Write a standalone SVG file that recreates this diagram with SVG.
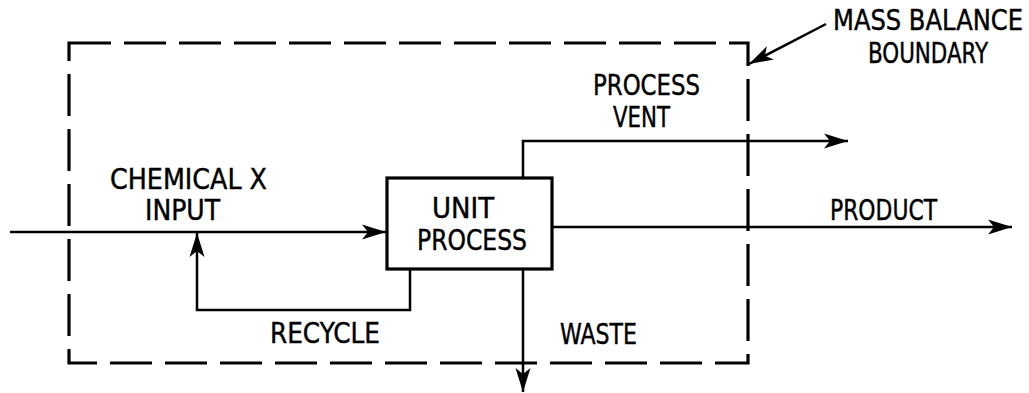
<svg xmlns="http://www.w3.org/2000/svg" width="1029" height="393" viewBox="0 0 1029 393">
<style>
text{font-family:"DejaVu Sans Condensed","DejaVu Sans","Liberation Sans",sans-serif;font-size:27.5px;fill:#000;stroke:#000;stroke-width:0.4}
.ln{fill:none;stroke:#000;stroke-width:2.5}
.bd{fill:none;stroke:#000;stroke-width:3.2;stroke-dasharray:42 13}
</style>
<defs>
<marker id="ah" markerUnits="userSpaceOnUse" markerWidth="26" markerHeight="18" viewBox="0 0 26 18" refX="24" refY="9" orient="auto">
<path d="M0,1.5 L24,9 L0,16.5 L6,9 Z" fill="#000"/>
</marker>
</defs>
<g id="boundary">
<rect class="bd" x="69" y="43" width="679" height="320"/>
</g>
<g id="unit-process">
<rect x="387" y="178" width="165" height="91" fill="#fff" stroke="#000" stroke-width="3.2"/>
<text x="432" y="218" textLength="62" lengthAdjust="spacingAndGlyphs">UNIT</text>
<text x="417" y="250" textLength="110" lengthAdjust="spacingAndGlyphs">PROCESS</text>
</g>
<g id="connectors">
<path class="ln" d="M10,232 H386" marker-end="url(#ah)"/>
<path class="ln" d="M410,269 V310 H197 V233" marker-end="url(#ah)"/>
<path class="ln" d="M523,178 V141 H848" marker-end="url(#ah)"/>
<path class="ln" d="M552,227 H1012" marker-end="url(#ah)"/>
<path class="ln" d="M523,269 V392" marker-end="url(#ah)"/>
<path class="ln" d="M826,24 L749,64" marker-end="url(#ah)"/>
</g>
<g id="labels">
<text x="110" y="189" textLength="157" lengthAdjust="spacingAndGlyphs">CHEMICAL X</text>
<text x="145" y="220" textLength="75" lengthAdjust="spacingAndGlyphs">INPUT</text>
<text x="593" y="95" textLength="107" lengthAdjust="spacingAndGlyphs">PROCESS</text>
<text x="613" y="127" textLength="57" lengthAdjust="spacingAndGlyphs">VENT</text>
<text x="830" y="220" textLength="107" lengthAdjust="spacingAndGlyphs">PRODUCT</text>
<text x="270" y="343" textLength="110" lengthAdjust="spacingAndGlyphs">RECYCLE</text>
<text x="560" y="344" textLength="77" lengthAdjust="spacingAndGlyphs">WASTE</text>
<text x="833" y="30" textLength="190" lengthAdjust="spacingAndGlyphs">MASS BALANCE</text>
<text x="868" y="63" textLength="120" lengthAdjust="spacingAndGlyphs">BOUNDARY</text>
</g>
</svg>
